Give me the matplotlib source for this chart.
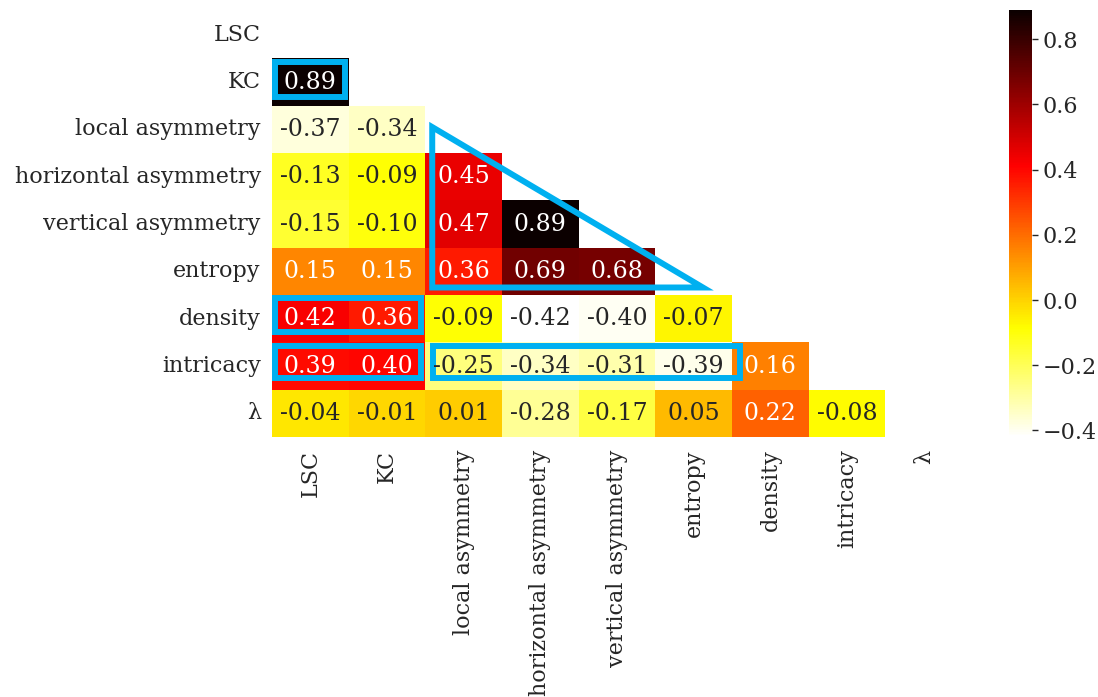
import numpy as np
import pandas as pd
import matplotlib
matplotlib.use("Agg")
import matplotlib.pyplot as plt
from matplotlib.patches import Rectangle, Polygon
import seaborn as sns

# Feature names (rows and columns of the correlation matrix)
labels = ["LSC", "KC", "local asymmetry", "horizontal asymmetry",
          "vertical asymmetry", "entropy", "density", "intricacy", "λ"]

# Lower-triangle correlation coefficients, one list per row
row_kc = [0.89]
row_local = [-0.37, -0.34]
row_horizontal = [-0.13, -0.09, 0.45]
row_vertical = [-0.15, -0.10, 0.47, 0.89]
row_entropy = [0.15, 0.15, 0.36, 0.69, 0.68]
row_density = [0.42, 0.36, -0.09, -0.42, -0.40, -0.07]
row_intricacy = [0.39, 0.40, -0.25, -0.34, -0.31, -0.39, 0.16]
row_lambda = [-0.04, -0.01, 0.01, -0.28, -0.17, 0.05, 0.22, -0.08]

lower_rows = [[], row_kc, row_local, row_horizontal, row_vertical,
              row_entropy, row_density, row_intricacy, row_lambda]

n = len(labels)
corr = np.eye(n)
for i, vals in enumerate(lower_rows):
    for j, v in enumerate(vals):
        corr[i, j] = v
        corr[j, i] = v
corr_df = pd.DataFrame(corr, index=labels, columns=labels)
mask = np.triu(np.ones_like(corr, dtype=bool))

plt.rcParams["font.family"] = ["DejaVu Serif"]
TEXT = "#262626"
FS_LABEL = 16
FS_ANNOT = 17

fig = plt.figure(figsize=(10.98, 6.97), dpi=100)
ax = fig.add_axes([0.2477, 0.373, 0.6285, 0.611])
cax = fig.add_axes([0.919, 0.373, 0.021, 0.613])

sns.heatmap(corr_df, mask=mask, cmap="hot_r", annot=True, fmt=".2f",
            annot_kws={"fontsize": FS_ANNOT}, ax=ax, cbar_ax=cax)

ax.tick_params(axis="y", length=0, labelsize=FS_LABEL, colors=TEXT, pad=8)
ax.tick_params(axis="x", length=0, labelsize=FS_LABEL, colors=TEXT, pad=9)
ax.set_xticklabels(labels, rotation=90)
ax.set_yticklabels(labels, rotation=0)

cax.tick_params(labelsize=FS_LABEL, colors=TEXT, length=4, width=1)
cax.set_yticks([-0.4, -0.2, 0.0, 0.2, 0.4, 0.6, 0.8])
for sp in cax.spines.values():
    sp.set_visible(False)

# Highlight shapes
hl = "#00b0f0"
lw = 4.3
ax.add_patch(Rectangle((0.04, 1.08), 0.91, 0.73, fill=False, ec=hl, lw=lw))
ax.add_patch(Rectangle((0.04, 6.07), 1.90, 0.71, fill=False, ec=hl, lw=lw))
ax.add_patch(Rectangle((0.04, 7.08), 1.90, 0.67, fill=False, ec=hl, lw=lw))
ax.add_patch(Rectangle((2.105, 7.08), 4.0, 0.67, fill=False, ec=hl, lw=lw))
ax.add_patch(Polygon([(2.09, 2.45), (2.09, 5.84), (5.62, 5.84)], closed=True,
                     fill=False, ec=hl, lw=lw, joinstyle="miter"))

fig.savefig("out.png", dpi=100)
